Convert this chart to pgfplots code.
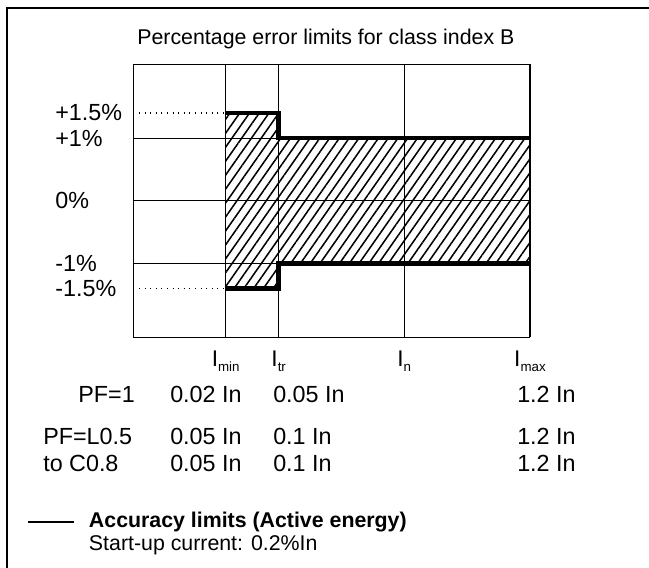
\documentclass[border=0pt]{standalone}
\usepackage{fontspec}
\setmainfont{Liberation Sans}
\usepackage{pgfplots}
\pgfplotsset{compat=1.18}
\usetikzlibrary{patterns.meta}
\newcommand{\lab}[1]{{\fontsize{17pt}{17pt}\selectfont I}\raisebox{-3.8pt}{\fontsize{10pt}{10pt}\selectfont #1}}
\begin{document}
\begin{tikzpicture}
\path[use as bounding box] (0pt,0pt) rectangle (486.75pt,425.25pt);
\begin{axis}[
  at={(99.975pt,172.275pt)}, anchor=south west,
  width=297.5pt, height=204.75pt, scale only axis,
  xmin=0, xmax=396.7, ymin=-2.177, ymax=2.177,
  axis line style={line width=0.75pt},
  xtick={92.4,145.4,271,396.7},
  xticklabels={\lab{min},\lab{tr},\lab{n},\lab{max}},
  xticklabel style={anchor=north, inner sep=0pt, yshift=-10pt},
  xmajorgrids=true,
  ytick={-1.4,-1,0,1,1.4},
  yticklabels={-1.5\%,-1\%,0\%,+1\%,+1.5\%},
  yticklabel style={anchor=west, inner sep=0pt, xshift=-58.7pt},
  extra y ticks={-1,0,1}, extra y tick labels={},
  extra y tick style={ymajorgrids=true},
  major tick length=0pt,
  grid style={black, line width=0.65pt},
  tick label style={font=\fontsize{17.5pt}{19pt}\selectfont},
  title={Percentage error limits for class index B},
  title style={font=\fontsize{16pt}{18pt}\selectfont, anchor=base, at={(0.5,1)}, yshift=9.2pt, xshift=-4.3pt},
  legend style={draw=none, fill=none, inner sep=0pt, outer sep=0pt,
    at={(-0.268,-0.639)}, anchor=north west,
    font=\fontsize{16pt}{18pt}\selectfont\bfseries,
    nodes={inner sep=0pt, text height=11.5pt, text depth=3.5pt},
    row sep=2.25pt,
    /tikz/every odd column/.append style={column sep=10.5pt}},
  legend cell align=left,
  legend image code/.code={\draw[line width=1.5pt] (0pt,0pt) -- (34.5pt,0pt);},
]
\addplot[draw=none, forget plot, pattern={Lines[angle=55, distance=6pt, line width=1.15pt]}]
  coordinates {(92.4,-1.4) (92.4,1.4) (145.4,1.4) (145.4,1) (396.7,1) (396.7,-1) (145.4,-1) (145.4,-1.4)} -- cycle;
\addplot[forget plot, black, line width=0.8pt, dash pattern=on 0.8pt off 3.4pt] coordinates {(0,1.4) (92.4,1.4)};
\addplot[forget plot, black, line width=0.8pt, dash pattern=on 0.8pt off 3.4pt] coordinates {(0,-1.4) (92.4,-1.4)};
\addplot[forget plot, black, line width=3.4pt] coordinates {(92.4,-1.4) (145.4,-1.4) (145.4,-1) (396.7,-1)};
\addplot[black, line width=3.4pt] coordinates {(92.4,1.4) (145.4,1.4) (145.4,1) (396.7,1)};
\addlegendentry{Accuracy limits (Active energy)}
\addlegendimage{empty legend}
\addlegendentry{\mdseries Start-up current: 0.2\%In}
\end{axis}
\begin{scope}[x=0.75pt, y=-0.75pt, shift={(0pt,425.25pt)}, every node/.style={inner sep=0pt, font=\fontsize{17.5pt}{19pt}\selectfont}]
\draw[line width=1.5pt] (650,8) -- (7,8) -- (7,568);
\node[anchor=base east] at (135,403) {PF=1};
\node[anchor=base west] at (170,403) {0.02 In};
\node[anchor=base west] at (273,403) {0.05 In};
\node[anchor=base west] at (517,403) {1.2 In};
\node[anchor=base west] at (43,445) {PF=L0.5};
\node[anchor=base west] at (170,445) {0.05 In};
\node[anchor=base west] at (273,445) {0.1 In};
\node[anchor=base west] at (517,445) {1.2 In};
\node[anchor=base west] at (43,472) {to C0.8};
\node[anchor=base west] at (170,472) {0.05 In};
\node[anchor=base west] at (273,472) {0.1 In};
\node[anchor=base west] at (517,472) {1.2 In};
\end{scope}
\end{tikzpicture}
\end{document}
